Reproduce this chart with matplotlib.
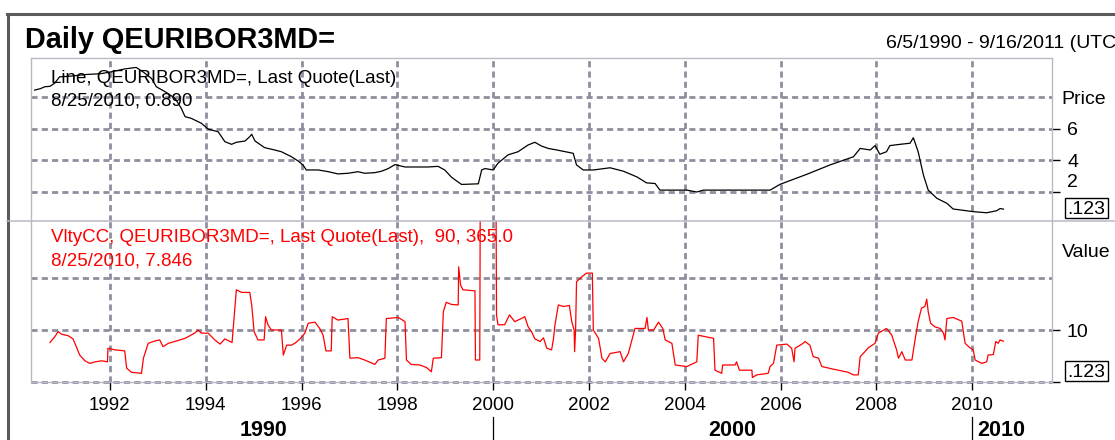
import matplotlib
matplotlib.use("Agg")
import matplotlib.pyplot as plt
from matplotlib.lines import Line2D
from matplotlib.patches import Rectangle
from matplotlib.transforms import blended_transform_factory

# ---------------- data ----------------
price_years = [1990.43, 1990.55, 1990.64, 1990.75, 1990.85, 1990.95, 1991.2, 1991.5, 1991.8, 1992.0,
               1992.3, 1992.55, 1992.7, 1992.87, 1992.97, 1993.15, 1993.36, 1993.49, 1993.57, 1993.70,
               1993.91, 1994.05, 1994.26, 1994.40, 1994.54, 1994.64, 1994.82, 1994.92, 1994.96, 1995.03,
               1995.23, 1995.44, 1995.58, 1995.79, 1995.93, 1996.03, 1996.10, 1996.35, 1996.56, 1996.76,
               1996.97, 1997.18, 1997.32, 1997.53, 1997.67, 1997.81, 1997.95, 1998.16, 1998.37, 1998.64,
               1998.85, 1998.99, 1999.13, 1999.27, 1999.34, 1999.69, 1999.76, 1999.83, 2000.00, 2000.10,
               2000.31, 2000.52, 2000.73, 2000.87, 2001.01, 2001.15, 2001.33, 2001.67, 2001.74, 2001.88,
               2002.09, 2002.44, 2002.72, 2003.00, 2003.20, 2003.38, 2003.48, 2004.04, 2004.25, 2004.39,
               2005.78, 2005.99, 2006.55, 2007.03, 2007.52, 2007.66, 2007.87, 2007.97, 2008.07, 2008.21,
               2008.28, 2008.49, 2008.70, 2008.77, 2008.87, 2008.98, 2009.08, 2009.26, 2009.47, 2009.60,
               2010.02, 2010.30, 2010.51, 2010.58, 2010.65]
price_values = [8.46, 8.55, 8.67, 8.70, 8.9, 9.3, 9.35, 9.45, 9.5, 9.6,
                9.8, 9.9, 9.6, 9.2, 8.67, 8.36, 7.94, 7.30, 6.77, 6.66,
                6.35, 5.98, 5.81, 5.18, 5.01, 5.14, 5.22, 5.50, 5.65, 5.22,
                4.80, 4.65, 4.54, 4.22, 3.95, 3.70, 3.38, 3.38, 3.27, 3.13,
                3.17, 3.27, 3.17, 3.21, 3.30, 3.47, 3.72, 3.57, 3.57, 3.57,
                3.61, 3.38, 2.92, 2.61, 2.46, 2.50, 3.38, 3.47, 3.38, 3.81,
                4.34, 4.54, 4.97, 5.14, 4.90, 4.75, 4.65, 4.44, 3.70, 3.38,
                3.38, 3.52, 3.30, 2.94, 2.56, 2.52, 2.10, 2.10, 1.98, 2.10,
                2.10, 2.47, 3.11, 3.70, 4.22, 4.75, 4.65, 4.93, 4.38, 4.54,
                4.93, 5.01, 5.08, 5.43, 4.54, 3.06, 2.10, 1.58, 1.26, 0.90,
                0.73, 0.66, 0.79, 0.93, 0.89]

vol_years = [1990.75, 1990.85, 1990.92, 1990.99, 1991.13, 1991.23, 1991.30, 1991.37, 1991.48, 1991.58,
             1991.69, 1991.83, 1991.95, 1991.96, 1992.10, 1992.31, 1992.35, 1992.45, 1992.66, 1992.70,
             1992.80, 1992.94, 1993.04, 1993.11, 1993.22, 1993.39, 1993.57, 1993.77, 1993.84, 1993.91,
             1994.05, 1994.19, 1994.30, 1994.40, 1994.55, 1994.61, 1994.64, 1994.75, 1994.92, 1994.96,
             1995.01, 1995.09, 1995.22, 1995.25, 1995.30, 1995.37, 1995.58, 1995.62, 1995.69, 1995.79,
             1995.86, 1995.97, 1996.07, 1996.14, 1996.28, 1996.38, 1996.45, 1996.51, 1996.62, 1996.64,
             1996.76, 1996.97, 1997.01, 1997.18, 1997.32, 1997.53, 1997.60, 1997.74, 1997.77, 1998.02,
             1998.16, 1998.19, 1998.29, 1998.47, 1998.61, 1998.71, 1998.75, 1998.92, 1998.96, 1999.02,
             1999.13, 1999.27, 1999.28, 1999.32, 1999.37, 1999.62, 1999.63, 1999.72, 1999.73, 2000.06,
             2000.07, 2000.10, 2000.24, 2000.34, 2000.45, 2000.59, 2000.66, 2000.73, 2000.80, 2000.87,
             2000.98, 2001.05, 2001.12, 2001.22, 2001.26, 2001.29, 2001.36, 2001.47, 2001.59, 2001.64,
             2001.69, 2001.70, 2001.72, 2001.74, 2001.85, 2001.95, 2002.07, 2002.09, 2002.20, 2002.27,
             2002.34, 2002.44, 2002.65, 2002.72, 2002.82, 2002.96, 2003.17, 2003.21, 2003.24, 2003.35,
             2003.45, 2003.54, 2003.59, 2003.73, 2003.80, 2004.04, 2004.25, 2004.28, 2004.60, 2004.63,
             2004.77, 2004.79, 2005.05, 2005.08, 2005.14, 2005.40, 2005.41, 2005.50, 2005.74, 2005.78,
             2005.85, 2005.92, 2006.13, 2006.23, 2006.28, 2006.30, 2006.47, 2006.51, 2006.61, 2006.68,
             2006.79, 2006.86, 2007.10, 2007.41, 2007.52, 2007.62, 2007.66, 2007.76, 2007.83, 2007.97,
             2008.04, 2008.21, 2008.32, 2008.42, 2008.46, 2008.53, 2008.60, 2008.74, 2008.80, 2008.87,
             2008.94, 2009.01, 2009.05, 2009.08, 2009.13, 2009.22, 2009.33, 2009.40, 2009.43, 2009.47,
             2009.60, 2009.78, 2009.85, 2009.95, 2010.02, 2010.06, 2010.20, 2010.30, 2010.33, 2010.44,
             2010.49, 2010.54, 2010.58, 2010.65]
vol_values = [7.6, 8.7, 9.7, 9.2, 8.9, 8.3, 6.8, 5.2, 4.1, 3.6,
              3.9, 4.1, 3.9, 6.5, 6.2, 6.0, 2.7, 1.9, 1.7, 4.6,
              7.45, 7.9, 8.1, 6.8, 7.45, 7.9, 8.4, 9.4, 10.0, 9.4,
              9.4, 8.1, 7.3, 8.3, 7.6, 14.2, 17.7, 17.2, 17.2, 14.8,
              9.7, 8.1, 8.1, 12.55, 11.0, 10.0, 10.0, 5.2, 7.1, 7.1,
              7.45, 8.3, 9.4, 11.3, 11.5, 10.3, 9.0, 6.0, 6.0, 12.55,
              11.9, 12.2, 4.6, 4.7, 4.25, 3.4, 4.25, 4.6, 12.2, 12.4,
              11.6, 4.25, 3.4, 3.3, 2.8, 2.0, 4.6, 4.7, 13.5, 15.3,
              14.9, 14.8, 22.1, 18.6, 17.7, 17.5, 4.25, 4.25, 34.0, 34.0,
              12.9, 11.0, 11.0, 12.9, 11.6, 12.2, 12.55, 10.6, 9.7, 8.3,
              7.8, 8.5, 6.5, 6.2, 8.4, 11.0, 14.8, 14.5, 14.7, 11.6,
              10.0, 5.85, 10.0, 19.25, 20.2, 20.9, 20.9, 10.0, 8.4, 4.6,
              3.9, 5.5, 5.85, 3.9, 5.5, 10.3, 10.3, 12.4, 10.0, 10.0,
              11.5, 10.3, 8.1, 7.45, 3.3, 3.0, 3.9, 9.0, 8.4, 2.3,
              1.7, 3.3, 3.3, 3.9, 2.3, 2.3, 0.9, 1.4, 1.7, 3.0,
              3.6, 7.1, 7.3, 6.5, 3.9, 6.5, 7.45, 7.8, 7.1, 4.9,
              4.6, 3.0, 2.5, 1.9, 1.4, 1.4, 4.9, 5.85, 6.6, 7.45,
              9.4, 10.3, 9.0, 6.2, 4.6, 5.85, 4.25, 4.25, 7.8, 11.6,
              14.2, 14.5, 15.9, 13.5, 11.3, 10.6, 10.3, 9.4, 8.1, 12.2,
              12.4, 11.7, 7.45, 6.6, 6.2, 4.25, 3.6, 3.9, 5.2, 5.3,
              7.8, 7.45, 8.1, 7.846]

year_ticks = [1992, 1994, 1996, 1998, 2000, 2002, 2004, 2006, 2008, 2010]
decade_labels = ["1990", "2000", "2010"]
decade_label_pos = [1995.2, 2005.0, 2010.6]
decade_separators = [2000, 2010]
price_grid = [2, 4, 6, 8]
price_ticks = [2, 4, 6]
value_grid = [0, 10, 20]
value_ticks = [0, 10]

title = "Daily QEURIBOR3MD="
date_range = "6/5/1990 - 9/16/2011 (UTC"
price_legend = ["Line, QEURIBOR3MD=, Last Quote(Last)", "8/25/2010, 0.890"]
vol_legend = ["VltyCC, QEURIBOR3MD=, Last Quote(Last),  90, 365.0", "8/25/2010, 7.846"]

# ---------------- layout ----------------
W, H = 1115, 440
plt.rcParams['font.family'] = ['Liberation Sans', 'DejaVu Sans']
fig = plt.figure(figsize=(W / 100, H / 100), dpi=100)


def fx(px):
    return px / W


def fy(py):
    return 1 - py / H


L, R = 31.3, 1052.3
T1, B1 = 58.3, 220.7
T2, B2 = 220.7, 382.2
ax1 = fig.add_axes([fx(L), fy(B1), fx(R) - fx(L), fy(T1) - fy(B1)])
ax2 = fig.add_axes([fx(L), fy(B2), fx(R) - fx(L), fy(T2) - fy(B2)])

XMIN, XMAX = 1990.36, 2011.67
GRID_C = '#8e8e9e'
SPINE_C = '#b8b8c6'
GRID_LW = 2.0
GRID_LS = (0, (2.2, 1.5))

for ax in (ax1, ax2):
    ax.set_xlim(XMIN, XMAX)
    ax.set_facecolor('white')
    for s in ax.spines.values():
        s.set_color(SPINE_C)
        s.set_linewidth(1.0)
    for yr in year_ticks:
        ax.axvline(yr, color=GRID_C, lw=GRID_LW, ls=GRID_LS, zorder=1)

ax1.set_ylim(0.155, 10.48)
ax2.set_ylim(0, 30.94)
ax1.spines['bottom'].set_visible(False)
ax2.spines['top'].set_visible(False)

for v in price_grid:
    ax1.axhline(v, color=GRID_C, lw=GRID_LW, ls=GRID_LS, zorder=1)
for v in value_grid:
    ax2.axhline(v, color=GRID_C, lw=GRID_LW, ls=GRID_LS, zorder=1, clip_on=False)

ax1.plot(price_years, price_values, color='black', lw=0.9, zorder=3)
ax2.plot(vol_years, vol_values, color='#ff0000', lw=0.9, zorder=3)

# ticks
ax1.set_xticks([])
ax1.yaxis.tick_right()
ax1.set_yticks(price_ticks)
ax1.set_yticklabels([])
ax1.tick_params(axis='y', length=6, width=1, color='black', direction='out')

ax2.yaxis.tick_right()
ax2.set_yticks(value_ticks)
ax2.set_yticklabels([])
ax2.tick_params(axis='y', length=6, width=1, color='black', direction='out')
ax2.set_xticks(year_ticks)
ax2.set_xticklabels([str(y) for y in year_ticks], fontsize=13.5)
ax2.tick_params(axis='x', length=6, width=1, color='black', direction='out', pad=5)

# right axis labels
tr1 = blended_transform_factory(fig.transFigure, ax1.transData)
tr2 = blended_transform_factory(fig.transFigure, ax2.transData)
FS = 14
for v in [6, 4]:
    ax1.text(fx(1067), v, str(v), transform=tr1, fontsize=FS, va='center_baseline', ha='left')
ax1.text(fx(1067), 2.7, "2", transform=tr1, fontsize=FS, va='center_baseline', ha='left')
ax1.text(fx(1061), 8, "Price", transform=tr1, fontsize=FS, va='center_baseline', ha='left')
ax2.text(fx(1067), 10, "10", transform=tr2, fontsize=FS, va='center_baseline', ha='left')
ax2.text(fx(1062), 25.3, "Value", transform=tr2, fontsize=FS, va='center_baseline', ha='left')


def box123(y_top, y_bot):
    x0, x1 = 1065, 1108
    fig.add_artist(Rectangle((fx(x0), fy(y_bot)), fx(x1) - fx(x0), fy(y_top) - fy(y_bot),
                             transform=fig.transFigure, fill=False, ec='black', lw=1.0))
    fig.text(fx((x0 + x1) / 2), fy((y_top + y_bot) / 2), ".123", fontsize=FS,
             ha='center', va='center_baseline')


box123(198, 217.5)
box123(361, 380.5)

# annotations inside panels
fig.text(fx(51.3), fy(83.3), price_legend[0], fontsize=13.5, color='black', va='baseline')
fig.text(fx(51.3), fy(105), price_legend[1], fontsize=13.5, color='black', va='baseline')
fig.text(fx(51.3), fy(241.7), vol_legend[0], fontsize=13.5, color='#ff0000', va='baseline')
fig.text(fx(51.3), fy(265.7), vol_legend[1], fontsize=13.5, color='#ff0000', va='baseline')

# title and date range
fig.text(fx(25), fy(48), title, fontsize=20.8, fontweight='bold', va='baseline')
fig.text(fx(886), fy(48), date_range, fontsize=14, va='baseline')

# frame lines
fig.add_artist(Line2D([fx(7), fx(1115)], [fy(14.5), fy(14.5)], color='#5a5a5a', lw=2.2,
                      transform=fig.transFigure))
fig.add_artist(Line2D([fx(7.5), fx(7.5)], [fy(14), fy(440)], color='#5a5a5a', lw=2.2,
                      transform=fig.transFigure))
fig.add_artist(Line2D([fx(7), fx(1115)], [fy(220.7), fy(220.7)], color=SPINE_C, lw=1.1,
                      transform=fig.transFigure))

# decade axis
trd = blended_transform_factory(ax2.transData, fig.transFigure)
for lab, xp in zip(decade_labels, decade_label_pos):
    fig.text(xp, fy(435.5), lab, transform=trd, fontsize=15.5, fontweight='bold',
             ha='center', va='baseline')
for xs in decade_separators:
    fig.add_artist(Line2D([xs, xs], [fy(417), fy(440)], color='black', lw=0.9, transform=trd))

fig.savefig("out.png", dpi=100, facecolor='white')
